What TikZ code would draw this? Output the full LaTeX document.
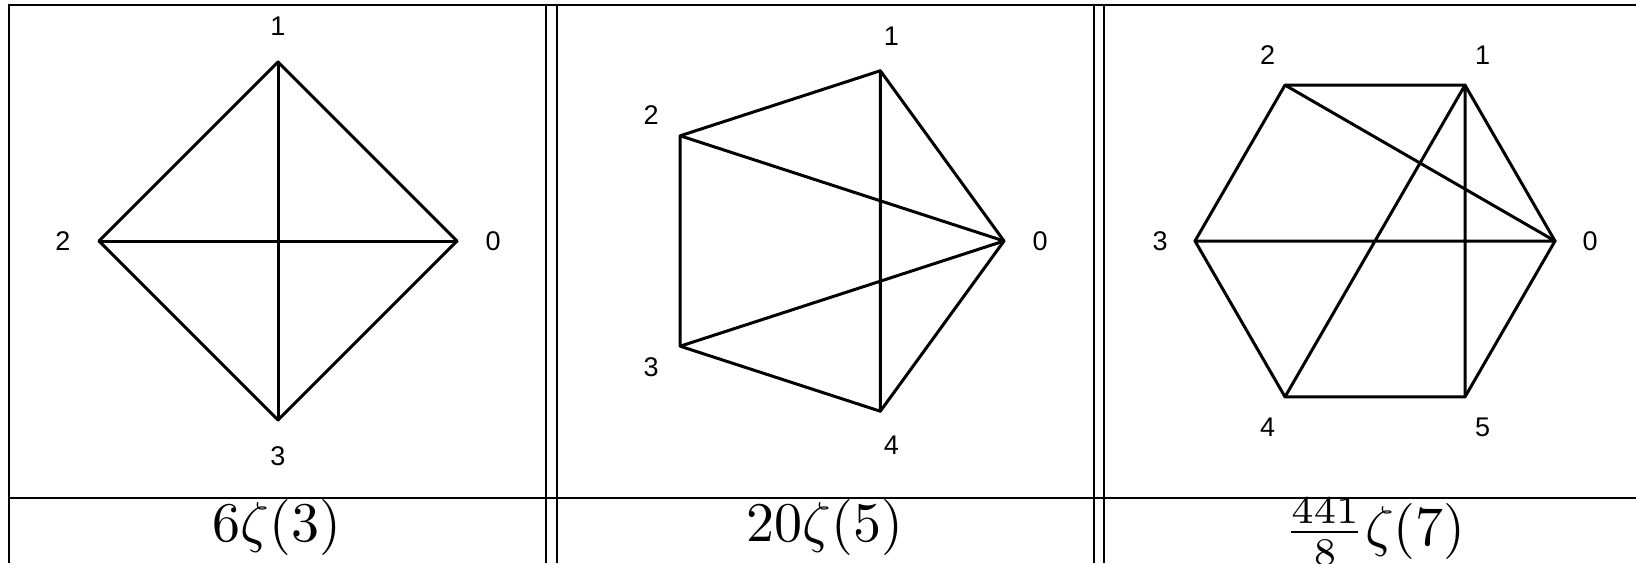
\documentclass[tikz,border=0pt]{standalone}
\usepackage{amsmath}
\usepackage[no-math]{fontspec}
\newfontfamily\labelfont{Liberation Sans}

\begin{document}
\begin{tikzpicture}[x=0.5pt, y=0.5pt,
  rule/.style={line width=1pt},
  edge/.style={line width=1.5pt, line cap=round, line join=round},
  vlabel/.style={font=\labelfont\fontsize{13.5}{16}\selectfont, inner sep=0pt},
  value/.style={scale=2.8, transform shape, anchor=base, inner sep=0pt}]

  \useasboundingbox (0,0) rectangle (1636,563);

  % Table rules
  \draw[rule] (9,0) -- (9,557.5) -- (1636,557.5);
  \draw[rule, line width=1.3pt] (9,65) -- (1636,65);
  \foreach \x in {546,556.5,1094,1104}
    \draw[rule] (\x,0) -- (\x,557.5);

  % First cell: four vertices
  \begin{scope}[shift={(278,322)}]
    \foreach \k in {0,...,3} {
      \coordinate (a\k) at (\k*90:179);
      \node[vlabel] (la\k) at (\k*90:215) {\k};
    }
    \draw[edge] (a0) -- (a1) -- (a2) -- (a3) -- cycle;
    \draw[edge] (a0) -- (a2) (a1) -- (a3);
  \end{scope}

  % Second cell: five vertices
  \begin{scope}[shift={(825,322)}]
    \foreach \k in {0,...,4} {
      \coordinate (b\k) at (\k*72:179);
      \node[vlabel] (lb\k) at (\k*72:215) {\k};
    }
    \draw[edge] (b0) -- (b1) -- (b2) -- (b3) -- (b4) -- cycle;
    \draw[edge] (b0) -- (b2) (b0) -- (b3) (b1) -- (b4);
  \end{scope}

  % Third cell: six vertices
  \begin{scope}[shift={(1375,322)}]
    \foreach \k in {0,...,5} {
      \coordinate (c\k) at (\k*60:180);
      \node[vlabel] (lc\k) at (\k*60:215) {\k};
    }
    \draw[edge] (c0) -- (c1) -- (c2) -- (c3) -- (c4) -- (c5) -- cycle;
    \draw[edge] (c0) -- (c2) (c0) -- (c3) (c1) -- (c4) (c1) -- (c5);
  \end{scope}

  % Values row
  \node[value] (za) at (277,21.5) {$6\zeta(3)$};
  \node[value] (zb) at (825,21.5) {$20\zeta(5)$};
  \node[value] (zc) at (1375,17.3) {$\frac{441}{8}\zeta(7)$};

\end{tikzpicture}
\end{document}
